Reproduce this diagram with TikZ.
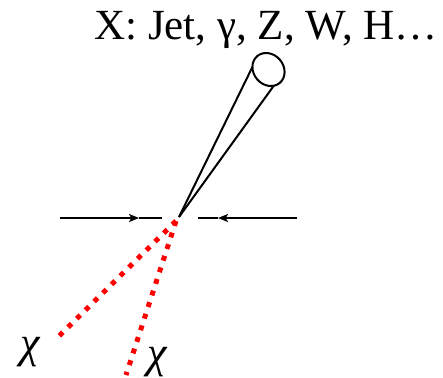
\documentclass[tikz,border=0pt]{standalone}
\usepackage{fontspec}
\setmainfont{Liberation Serif}
\usetikzlibrary{positioning,arrows.meta,shapes.geometric}

\begin{document}
\begin{tikzpicture}[x=0.5pt,y=-0.5pt,font=\fontsize{21.5}{25}\selectfont,
  >={Stealth[length=5pt,width=4pt,inset=1.2pt]},line width=1pt]
\tikzstyle{dm}=[draw=red,line width=2.5pt,dash pattern=on 2.5pt off 3.6pt]
\tikzstyle{cone}=[draw,ellipse,minimum width=17.5pt,minimum height=15pt,
  inner sep=0pt,outer sep=0pt]
\tikzstyle{chilab}=[font=\fontsize{22}{25}\selectfont\itshape]
\useasboundingbox (0,0) rectangle (443,377);

% interaction point
\coordinate (ip) at (179,217);
\coordinate (ipdm) at (176,221);

% jet cone
\node[cone,rotate=-50] (jet) at (268.5,69.5) {};
\draw (ip) -- (jet.221);
\draw (ip) -- (jet.338);
\node[anchor=base] (xlab) at (266,39) {X: Jet, γ, Z, W, H…};

% incoming beams
\coordinate (bl0) at (60,218);
\coordinate (blt) at (139,218);
\coordinate (bl1) at (162,218);
\draw[->] (bl0) -- (blt);
\draw (blt) -- (bl1);
\coordinate (br0) at (297,218);
\coordinate (brt) at (218,218);
\coordinate (br1) at (198,218);
\draw[->] (br0) -- (brt);
\draw (brt) -- (br1);

% invisible pair
\coordinate (chiend1) at (55,340);
\coordinate (chiend2) at (126,375);
\draw[dm] (ipdm) -- (chiend1);
\draw[dm] (ipdm) -- (chiend2);
\node[chilab] (chi1) at (30,352) {χ};
\node[chilab] (chi2) at (157,362) {χ};
\end{tikzpicture}
\end{document}
